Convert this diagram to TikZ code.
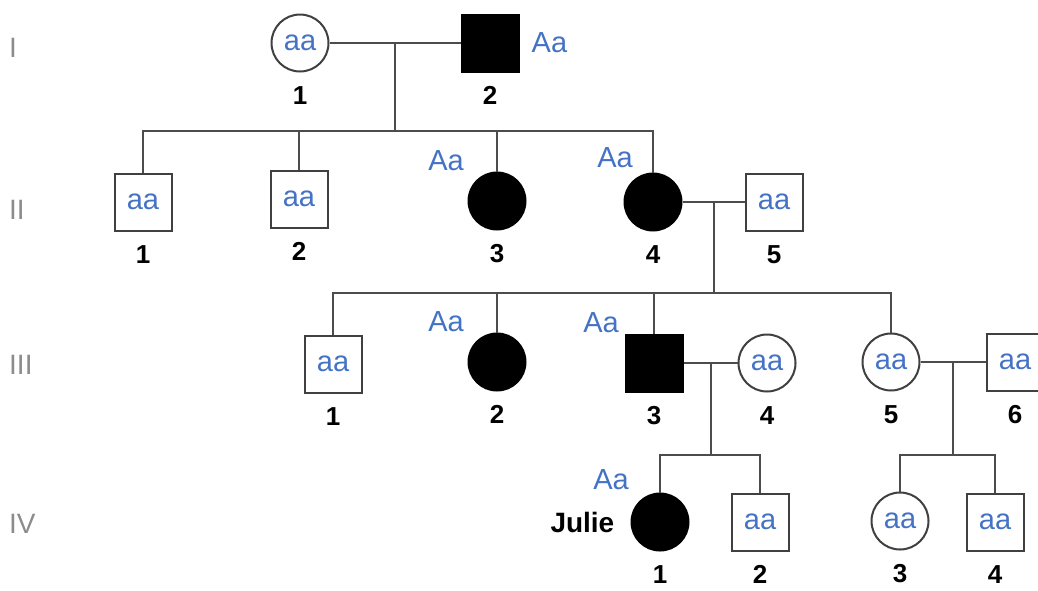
\documentclass[tikz,border=0pt]{standalone}
\usepackage{fontspec}
\setmainfont{Liberation Sans}
\usepackage{tikz}
\usetikzlibrary{positioning,calc}
\definecolor{gtblue}{HTML}{4472C4}
\newcommand{\gtfont}{\fontsize{29}{34}\selectfont}
\newcommand{\numfont}{\fontsize{26}{30}\selectfont\bfseries}
\newcommand{\genfont}{\fontsize{28}{32}\selectfont}

\begin{document}
\begin{tikzpicture}[x=1pt,y=-1pt,
  rel/.style={line width=2pt,draw=black!70},
  ind/.style={draw=black!75,line width=2pt,minimum size=57pt,inner sep=0pt,
              text=gtblue,font=\gtfont},
  male/.style={ind,rectangle},
  female/.style={ind,circle},
  aff/.style={fill=black,draw=black},
  gt/.style={text=gtblue,font=\gtfont,inner sep=0pt},
  num/.style={font=\numfont,inner sep=0pt},
  gen/.style={font=\genfont,text=black!45,anchor=west,inner sep=0pt}]
  \useasboundingbox (0,0) rectangle (1038,590);
  % generations
  \node[gen] (gI)   at (9,48)  {I};
  \node[gen] (gII)  at (9,210) {II};
  \node[gen] (gIII) at (9,365) {III};
  \node[gen] (gIV)  at (9,524) {IV};
  % generation I
  \node[female]     (I1)   at (300,43)  {aa};
  \node[male,aff]   (I2)   at (490,43)  {};
  % generation II
  \node[male]       (II1)  at (143,202) {aa};
  \node[male]       (II2)  at (299,199) {aa};
  \node[female,aff] (II3)  at (497,201) {};
  \node[female,aff] (II4)  at (653,202) {};
  \node[male]       (II5)  at (774,202) {aa};
  % generation III
  \node[male]       (III1) at (333,364) {aa};
  \node[female,aff] (III2) at (497,362) {};
  \node[male,aff]   (III3) at (654,363) {};
  \node[female]     (III4) at (767,363) {aa};
  \node[female]     (III5) at (891,362) {aa};
  \node[male]       (III6) at (1015,362) {aa};
  % generation IV
  \node[female,aff] (IV1)  at (660,522) {};
  \node[male]       (IV2)  at (760,522) {aa};
  \node[female]     (IV3)  at (900,521) {aa};
  \node[male]       (IV4)  at (995,522) {aa};
  \node[num,font=\fontsize{28}{32}\selectfont\bfseries,left=16pt of IV1] (julie) {Julie};
  % numbers
  \foreach \p/\n in {I1/1,I2/2,II1/1,II2/2,II3/3,II4/4,II5/5,
                     III1/1,III2/2,III3/3,III4/4,III5/5,III6/6,
                     IV1/1,IV2/2,IV3/3,IV4/4}
    \node[num,below=14pt of \p] (n\p) {\n};
  % genotypes outside
  \node[gt,right=12pt of I2] (gI2) {Aa};
  \foreach \p/\dx/\dy in {II3/-51/-40,II4/-38/-44,III2/-51/-40,
                          III3/-53/-40,IV1/-49/-42}
    \node[gt] (g\p) at ([shift={(\dx,\dy)}]\p) {Aa};
  % couples
  \draw[rel] (I1) -- (I2);
  \draw[rel] (II4) -- (II5);
  \draw[rel] (III3) -- (III4);
  \draw[rel] (III5) -- (III6);
  \coordinate (m1) at ($(I1.east)!0.5!(I2.west)$);
  \coordinate (m2) at ($(II4.east)!0.5!(II5.west)$);
  \coordinate (m3) at ($(III3.east)!0.5!(III4.west)$);
  \coordinate (m4) at ($(III5.east)!0.5!(III6.west)$);
  % children
  \draw[rel] (m1) -- ++(0,88) coordinate (s1);
  \draw[rel] (II1) |- (s1) -| (II4);
  \draw[rel] (s1) -| (II2);
  \draw[rel] (s1) -| (II3);
  \draw[rel] (m2) -- ++(0,91) coordinate (s2);
  \draw[rel] (III1) |- (s2) -| (III5);
  \draw[rel] (s2) -| (III2);
  \draw[rel] (s2) -| (III3);
  \draw[rel] (m3) -- ++(0,92) coordinate (s3);
  \draw[rel] (IV1) |- (s3) -| (IV2);
  \draw[rel] (m4) -- ++(0,93) coordinate (s4);
  \draw[rel] (IV3) |- (s4) -| (IV4);
\end{tikzpicture}
\end{document}
